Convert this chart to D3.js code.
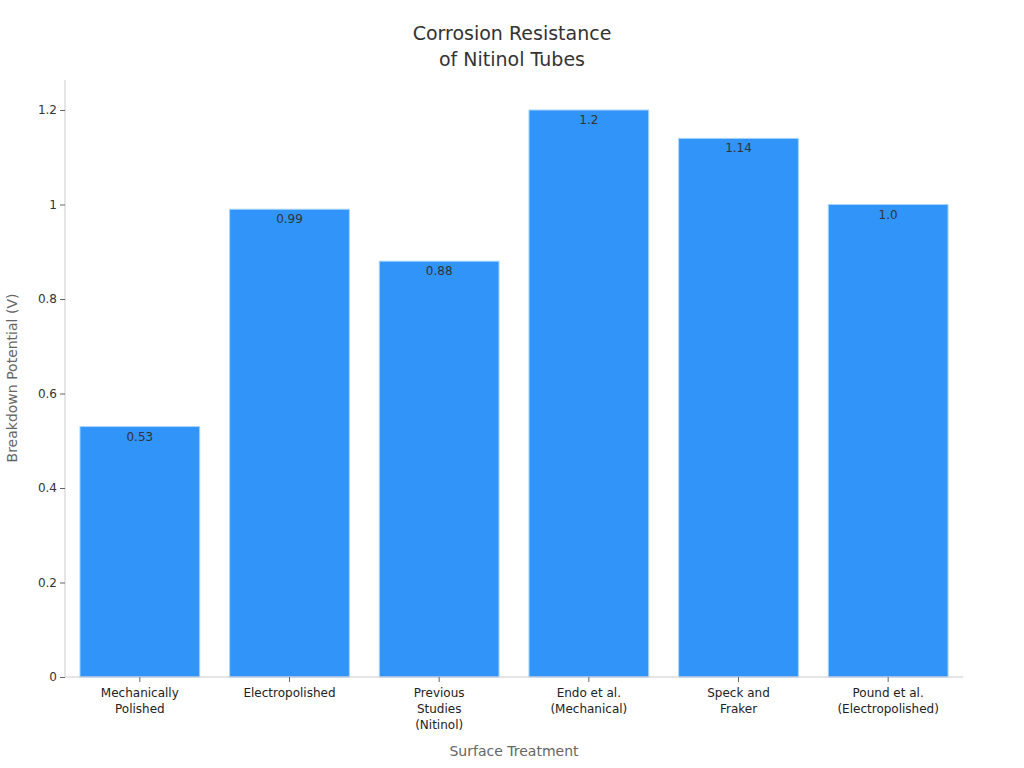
<!DOCTYPE html><html><head><meta charset="utf-8"><script src="https://cdn.jsdelivr.net/npm/d3@7"></script>
<style>body{margin:0;background:#fff}text{font-family:"DejaVu Sans",sans-serif}</style></head><body><svg width="1024" height="768"></svg><script>
const categories=[["Mechanically","Polished"],["Electropolished"],["Previous","Studies","(Nitinol)"],["Endo et al.","(Mechanical)"],["Speck and","Fraker"],["Pound et al.","(Electropolished)"]];
const values=[0.53,0.99,0.88,1.2,1.14,1.0];
const valueLabels=["0.53","0.99","0.88","1.2","1.14","1.0"];
const yTicks=[0,0.2,0.4,0.6,0.8,1,1.2];
const svg=d3.select("svg");
const L=65,R=963,T=80,B=677;
const x=d3.scaleBand().domain(d3.range(6)).range([L,R]).paddingInner(0.2).paddingOuter(0.1);
const y=d3.scaleLinear().domain([0,1.2]).range([B,110]);
svg.selectAll("rect.b").data(values).join("rect").attr("x",(d,i)=>x(i)).attr("width",x.bandwidth()).attr("y",d=>y(d)).attr("height",d=>B-y(d)).attr("fill","#3094f8").attr("stroke","#a8d4fb").attr("stroke-width",1);
svg.selectAll("text.v").data(values).join("text").attr("x",(d,i)=>x(i)+x.bandwidth()/2).attr("y",d=>y(d)+14).attr("text-anchor","middle").attr("font-size",12).attr("fill","#333").text((d,i)=>valueLabels[i]);
const ya=svg.append("g").attr("transform",`translate(${L},0)`).call(d3.axisLeft(y).tickValues(yTicks).tickSize(5).tickFormat(d=>d3.format("~g")(d)));
ya.select(".domain").attr("stroke","#ccc").attr("d",`M-0,${T}V${B}`);
ya.selectAll("line").attr("stroke","#666");ya.selectAll("text").attr("font-size",12).attr("fill","#333");
svg.append("line").attr("x1",L).attr("x2",R).attr("y1",B).attr("y2",B).attr("stroke","#ccc");
categories.forEach((c,i)=>{const cx=x(i)+x.bandwidth()/2;
svg.append("line").attr("x1",cx).attr("x2",cx).attr("y1",B).attr("y2",B+5).attr("stroke","#666");
c.forEach((s,j)=>svg.append("text").attr("x",cx).attr("y",B+20+j*16).attr("text-anchor","middle").attr("font-size",12).attr("fill","#222").text(s));});
svg.append("text").attr("x",514).attr("y",756).attr("text-anchor","middle").attr("font-size",14).attr("fill","#666").text("Surface Treatment");
svg.append("text").attr("transform",`translate(17,378) rotate(-90)`).attr("text-anchor","middle").attr("font-size",14).attr("fill","#666").text("Breakdown Potential (V)");
svg.append("text").attr("x",512).attr("y",40).attr("text-anchor","middle").attr("font-size",19).attr("fill","#333").text("Corrosion Resistance");
svg.append("text").attr("x",512).attr("y",66).attr("text-anchor","middle").attr("font-size",19).attr("fill","#333").text("of Nitinol Tubes");
</script></body></html>
